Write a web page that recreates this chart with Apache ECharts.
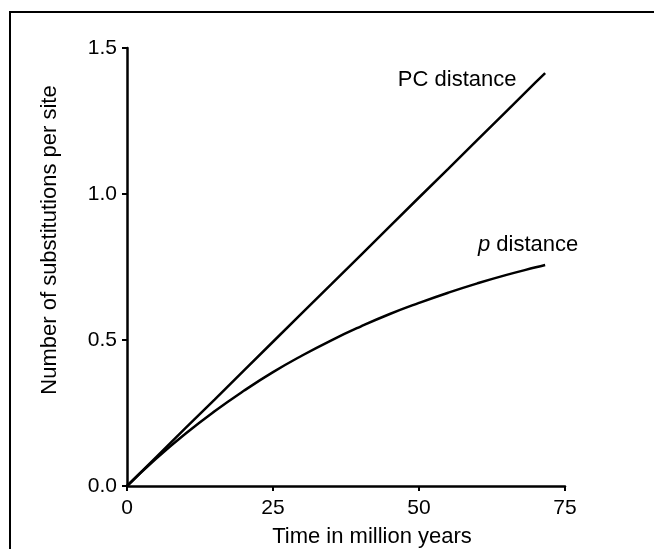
<!DOCTYPE html>
<html lang="en" style="height: 100%">

<head>
  <meta charset="utf-8" />
</head>

<body style="height: 100%; margin: 0; background: #fff">
  <div style="position: absolute; left: 9px; top: 11px; right: 0; bottom: 0; border-left: 2px solid #000; border-top: 2px solid #000"></div>
  <div id="container" style="position: absolute; left: 0; top: 0; width: 654px; height: 549px"></div>

  <script type="text/javascript" src="https://fastly.jsdelivr.net/npm/echarts@6/dist/echarts.min.js"></script>

  <script type="text/javascript">
    // values (time in Myr, substitutions per site)
    var timeMyr = [0, 5, 10, 15, 20, 25, 30, 35, 40, 45, 50, 55, 60, 65, 70, 71.6];
    var pcDistance = [0, 0.099, 0.198, 0.296, 0.395, 0.494, 0.593, 0.691, 0.79, 0.889, 0.988, 1.086, 1.185, 1.284, 1.383, 1.414];
    var pDistance = [0, 0.094, 0.179, 0.256, 0.326, 0.39, 0.447, 0.499, 0.546, 0.589, 0.627, 0.662, 0.694, 0.723, 0.749, 0.757];
    var xTicks = [0, 25, 50, 75];
    var yTicks = [0, 0.5, 1.0, 1.5];

    var FONT = "Liberation Sans";

    function pairs(xs, ys) {
      return xs.map(function (x, i) { return [x, ys[i]]; });
    }

    var dom = document.getElementById("container");
    var myChart = echarts.init(dom, null, { renderer: "canvas" });

    var option = {
      animation: false,
      grid: { left: 127, right: 89, top: 48, bottom: 63, containLabel: false, outerBoundsMode: "none" },
      textStyle: { fontFamily: FONT, color: "#000" },
      xAxis: {
        type: "value",
        min: xTicks[0],
        max: xTicks[xTicks.length - 1],
        interval: 25,
        name: "Time in million years",
        nameLocation: "middle",
        nameGap: 40,
        nameTextStyle: { fontSize: 22, color: "#000", fontFamily: FONT, padding: [0, 0, 0, 52] },
        axisLine: { lineStyle: { color: "#000", width: 2.5 } },
        axisTick: { show: true, length: 5, lineStyle: { color: "#000", width: 2 } },
        axisLabel: { fontSize: 21, color: "#000", fontFamily: FONT, margin: 12 },
        splitLine: { show: false }
      },
      yAxis: {
        type: "value",
        min: yTicks[0],
        max: yTicks[yTicks.length - 1],
        interval: 0.5,
        name: "Number of substitutions per site",
        nameLocation: "middle",
        nameGap: 66,
        nameTextStyle: { fontSize: 22, color: "#000", fontFamily: FONT, padding: [0, 0, 0, 54] },
        axisLine: { show: true, lineStyle: { color: "#000", width: 2.5 } },
        axisTick: { show: true, length: 5, lineStyle: { color: "#000", width: 2 } },
        axisLabel: {
          fontSize: 21, color: "#000", fontFamily: FONT, margin: 10,
          formatter: function (v) { return v.toFixed(1); }
        },
        splitLine: { show: false }
      },
      series: [
        {
          name: "PC distance",
          type: "line",
          data: pairs(timeMyr, pcDistance),
          showSymbol: false,
          lineStyle: { color: "#000", width: 2.5 },
          endLabel: {
            show: true,
            formatter: "PC distance",
            fontSize: 22,
            fontFamily: FONT,
            color: "#000",
            align: "center",
            offset: [-96, 7]
          }
        },
        {
          name: "p distance",
          type: "line",
          smooth: true,
          data: pairs(timeMyr, pDistance),
          showSymbol: false,
          lineStyle: { color: "#000", width: 2.5 },
          endLabel: {
            show: true,
            formatter: "{i|p} distance",
            fontSize: 22,
            fontFamily: FONT,
            color: "#000",
            align: "center",
            offset: [-25, -20],
            rich: {
              i: { fontStyle: "italic", fontSize: 22, fontFamily: FONT, color: "#000" }
            }
          }
        }
      ]
    };

    myChart.setOption(option);
    window.addEventListener("resize", myChart.resize);
  </script>
</body>

</html>
